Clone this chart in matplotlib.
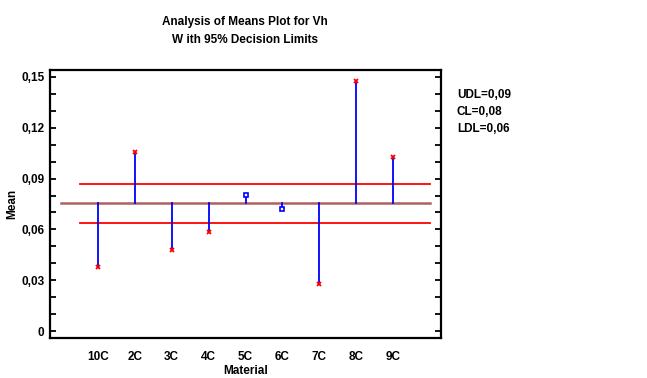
import numpy as np
import matplotlib.pyplot as plt
from matplotlib.ticker import FixedLocator, MultipleLocator

plt.rcParams['font.family'] = ['Liberation Sans', 'DejaVu Sans']
plt.rcParams['font.weight'] = 'bold'

# datos
materiales = ["10C", "2C", "3C", "4C", "5C", "6C", "7C", "8C", "9C"]
medias = [0.0380, 0.1055, 0.0478, 0.0587, 0.0801, 0.0720, 0.0279, 0.1478, 0.1026]
CL = 0.0758
UDL = 0.0866
LDL = 0.0640
yticks = [0, 0.03, 0.06, 0.09, 0.12, 0.15]
yticklabels = ["0", "0,03", "0,06", "0,09", "0,12", "0,15"]

fig = plt.figure(figsize=(6.47, 3.78), dpi=100)
ax = fig.add_axes([0.0773, 0.1058, 0.6043, 0.709])

x = np.arange(1, len(materiales) + 1)

# límites de decisión
ax.plot([0, 10], [CL, CL], color="#b06060", lw=1.8, zorder=2)
ax.plot([0.5, 10], [UDL, UDL], color="red", lw=1.3, zorder=2)
ax.plot([0.5, 10], [LDL, LDL], color="red", lw=1.3, zorder=2)

# líneas verticales y puntos
for xi, m in zip(x, medias):
    ax.plot([xi, xi], [CL, m], color="blue", lw=1.3, zorder=3)
    if m > UDL or m < LDL:
        ax.plot(xi, m, marker="x", color="red", ms=3.5, mew=1.3, zorder=4)
    else:
        ax.plot(xi, m, marker="s", mfc="white", mec="blue", ms=3.2, mew=1.2, zorder=4)

ax.set_xlim(-0.3, 10.3)
ax.set_ylim(-0.004, 0.154)
ax.set_xticks(x)
ax.set_xticklabels(materiales, fontsize=8.5, fontweight="bold")
ax.tick_params(axis="x", length=0, pad=9)

ax.yaxis.set_major_locator(FixedLocator(yticks))
ax.set_yticklabels(yticklabels, fontsize=8.5, fontweight="bold")
ax.yaxis.set_minor_locator(MultipleLocator(0.01))
ax.tick_params(axis="y", which="both", direction="in", left=True, right=True,
               length=4, width=1.3, pad=4)

for s in ax.spines.values():
    s.set_linewidth(1.6)

ax.set_xlabel("Material", fontsize=8.5, fontweight="bold", labelpad=2)
ax.set_ylabel("Mean", fontsize=8.5, fontweight="bold", labelpad=2)

fig.text(0.379, 0.943, "Analysis of Means Plot for Vh", ha="center", va="center",
         fontsize=8.5, fontweight="bold")
fig.text(0.379, 0.893, "W ith 95% Decision Limits", ha="center", va="center",
         fontsize=8.5, fontweight="bold")

fig.text(0.706, 0.748, "UDL=0,09", fontsize=8.5, fontweight="bold", va="center")
fig.text(0.706, 0.703, "CL=0,08", fontsize=8.5, fontweight="bold", va="center")
fig.text(0.706, 0.658, "LDL=0,06", fontsize=8.5, fontweight="bold", va="center")

plt.savefig("out.png", dpi=100)
